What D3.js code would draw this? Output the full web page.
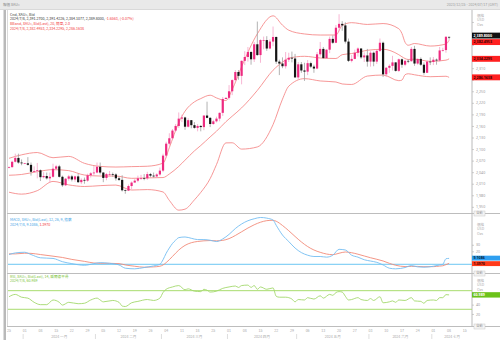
<!DOCTYPE html>
<html>
<head>
<meta charset="utf-8">
<script src="https://cdn.jsdelivr.net/npm/d3@7"></script>
<style>
html,body{margin:0;padding:0;background:#fff;}
svg{display:block;font-family:"Noto Sans CJK TC","Noto Sans",sans-serif;}
</style>
</head>
<body>
<svg id="chart" width="500" height="340"></svg>
<script>
// ---- Daily XAU= candles, 2023/12/25 .. 2024/07/08 ----
const candleOpen = [2053,2053,2067,2077,2065,2063,2063,2059,2041,2043,2045,2027,2030,2024,2028,2049,2055,2028,2006,2023,2029,2021,2029,2014,2020,2018,2032,2037,2039,2054,2039,2025,2035,2035,2034,2024,2020,1993,1992,2004,2013,2018,2024,2025,2024,2035,2031,2029,2034,2044,2083,2114,2128,2148,2160,2179,2182,2158,2175,2162,2155,2160,2157,2187,2181,2165,2172,2179,2194,2230,2233,2250,2279,2300,2290,2329,2339,2352,2333,2372,2344,2383,2383,2361,2379,2391,2327,2322,2315,2332,2337,2335,2286,2320,2304,2301,2323,2314,2309,2346,2360,2336,2358,2386,2376,2415,2425,2421,2379,2329,2334,2350,2361,2338,2343,2327,2350,2327,2355,2376,2294,2311,2316,2325,2303,2333,2319,2329,2328,2360,2322,2334,2319,2298,2327,2326,2332,2330,2356,2357,2391.27];
const candleHigh = [2055,2070,2088,2088,2073,2064,2079,2065,2055,2064,2047,2040,2039,2039,2062,2059,2059,2031,2025,2033,2033,2031,2036,2024,2026,2036,2040,2056,2065,2065,2040,2038,2043,2039,2037,2029,2032,1995,2008,2016,2022,2031,2033,2035,2041,2038,2039,2037,2052,2088,2119,2141,2152,2165,2195,2189,2184,2180,2175,2170,2165,2162,2187,2223,2183,2176,2184,2195,2235,2234,2266,2281,2305,2305,2330,2354,2365,2354,2378,2431,2385,2392,2393,2385,2418,2392,2332,2338,2352,2350,2353,2347,2326,2326,2324,2331,2327,2319,2352,2378,2365,2359,2392,2395,2422,2450,2432,2429,2387,2344,2358,2364,2362,2351,2360,2354,2353,2358,2387,2379,2313,2320,2342,2325,2335,2335,2332,2333,2365,2368,2335,2338,2325,2330,2338,2339,2335,2365,2363,2393,2391.42];
const candleLow = [2050,2052,2065,2062,2058,2062,2057,2031,2038,2024,2017,2024,2021,2013,2026,2045,2026,2002,2004,2018,2016,2015,2012,2009,2010,2015,2026,2031,2037,2034,2014,2019,2030,2028,2018,2017,1990,1984,1991,1995,2013,2014,2020,2019,2020,2027,2026,2025,2031,2040,2078,2109,2125,2145,2155,2170,2150,2156,2154,2153,2146,2146,2149,2180,2157,2163,2169,2172,2186,2230,2228,2240,2273,2280,2268,2318,2327,2319,2326,2342,2324,2359,2355,2359,2367,2321,2292,2310,2309,2326,2325,2285,2281,2298,2277,2292,2310,2298,2307,2340,2335,2335,2349,2373,2375,2406,2407,2374,2326,2325,2333,2340,2334,2326,2314,2314,2315,2321,2352,2287,2287,2298,2304,2301,2300,2311,2315,2323,2327,2316,2319,2316,2293,2298,2318,2318,2319,2327,2353,2350,2384.11];
const candleClose = [2053,2067,2077,2065,2063,2063,2059,2041,2043,2045,2027,2030,2024,2028,2049,2055,2028,2006,2023,2029,2021,2029,2014,2020,2018,2032,2037,2039,2054,2039,2025,2035,2035,2034,2024,2020,1993,1992,2004,2013,2018,2024,2025,2024,2035,2031,2029,2034,2044,2083,2114,2128,2148,2160,2179,2182,2158,2175,2162,2155,2160,2157,2187,2181,2165,2172,2179,2194,2230,2233,2250,2279,2300,2290,2329,2339,2352,2333,2372,2344,2383,2383,2361,2379,2391,2327,2322,2315,2332,2337,2335,2286,2320,2304,2301,2323,2314,2309,2346,2360,2336,2358,2386,2376,2415,2425,2421,2379,2329,2334,2350,2361,2338,2343,2327,2350,2327,2355,2376,2294,2311,2316,2325,2303,2333,2319,2329,2328,2360,2322,2334,2319,2298,2327,2326,2332,2330,2356,2357,2391.46,2389.80];

// ---- Bollinger band (20, 2.0) readings, by trading-day index ----
const bandDay    = [0,4,9,14,19,24,29,34,39,44,49,51,54,56,59,61,64,66,69,71,74,79,84,87,89,94,99,104,106,109,114,119,124,125,126,127,129,134,139,140];
const bandUpper  = [2076,2085,2091,2077.5,2081,2063,2055,2053.3,2054.4,2055.4,2063.4,2103.6,2168.6,2198.4,2222.6,2231,2239.8,2232.8,2226,2254.3,2313.9,2399.1,2445.9,2421.6,2408.5,2398.8,2396,2396.1,2421,2428.1,2423.5,2425.8,2412.3,2400,2377,2369.5,2374,2367.4,2372.6,2382.4953];
const bandMiddle = [2032,2034,2041.3,2046.6,2044,2032.6,2030,2029.9,2024,2025.1,2026,2035.2,2055,2071.2,2095.4,2109.2,2131.6,2146.2,2171,2185.3,2206.9,2252.3,2304.7,2325.6,2335.9,2340.8,2336.4,2335.1,2345,2347.9,2356.5,2359,2344.9,2339.6,2335,2332.5,2333.4,2327.6,2330.8,2334.2295];
const bandLower  = [1988,1983,1992,2016,2007,2002.8,2005,2006.5,1993.6,1994.8,1988.6,1966.8,1941.4,1944,1968.2,1987.4,2023.4,2059.6,2116,2116.3,2099.9,2105.5,2163.5,2229.6,2263.3,2282.8,2276.8,2274.1,2269,2267.7,2289.5,2292.2,2277.5,2279,2293,2295.5,2292.8,2287.8,2289,2286.1638];

// ---- MACD (12, 26, 9) readings ----
const macdDay    = [0,2,5,7,10,14,17,20,24,27,29,32,35,37,40,43,46,48,49,50,51,52,53,54,56,58,60,62,64,66,68,70,72,74,76,78,80,82,84,85,87,89,91,93,95,97,99,101,103,105,107,109,111,113,115,117,119,121,123,126,128,130,132,135,137,138,139,140];
const macdLine   = [15,17.5,18.5,15,10,9,4,1,-1.5,1,2.5,1.5,-1,-6,-7,-5,-2.5,0,7,17,25,32,37,41,42,40,38,38,37,35,39,46,55,62,67,70,72,71,68,60,45,35,25,18,14,12,12,11,14,23,22,14,11,7,5,3,-1,-6,-7,-5,-2,-4,-4.5,-3,-1,0,8.5,9.1086];
const macdSignal = [16,16,17,16.8,15,12.5,10.5,7.5,4.5,2,1.5,1.5,1,-1,-3,-4.5,-4,-3,-1,2.6,7.1,12.1,17.1,21.9,29.1,33.2,35.1,36.1,36.5,36.1,36.8,39.5,44.3,50,55.8,60.8,64.7,67.1,67.7,66.2,59.7,51.6,42.8,34.4,27.3,22,18.4,15.8,14.8,17,18.9,17.8,15.5,12.8,10.1,7.7,5.1,1.5,-1.5,-3.5,-3.2,-3.3,-3.7,-3.6,-2.8,-2.3,-0.5,1.397];

// ---- RSI (14, Wilder) readings ----
const rsiDay = [0,2,4,6,8,10,12,14,16,17,19,22,24,26,28,29,30,33,35,36,37,39,41,44,46,48,49,50,52,54,56,57,59,61,62,63,64,66,68,70,72,73,74,76,77,78,79,80,82,84,85,86,88,90,91,92,94,95,97,99,100,102,103,104,105,106,107,108,109,111,112,114,115,116,118,119,121,122,123,124,126,128,129,131,132,133,135,136,137,138,139,140];
const rsiValue = [57,62,56,54,45,40,40,50,45,39,45,42,43,50,54,50,46,49,45,37,36,44,47,51,49,54,66,73,78,81,72,74,69,68,73,71,67,69,75,78,80,77,81,82,77,81,73,78,73,76,58,56,56,52,46,51,50,55,52,59,54,62,60,66,68,67,58,50,51,55,51,49,53,49,57,44,46,48,45,50,49,55,48,47,43,49,50,49,55,55,61.5,60.989];

// ---- axis text ----
const priceTicks = [2430,2400,2370,2340,2310,2280,2250,2220,2190,2160,2130,2100,2070,2040,2010,1980,1950];
const monthNames = ["2024 一月","2024 二月","2024 三月","2024 四月","2024 五月","2024 六月","2024 七月"];
const unitText = ["價格","USD","Ozs"];

// weekday calendar from 2023/12/25 to 2024/07/17
const days = d3.timeDay.range(new Date(2023,11,25), new Date(2024,6,18))
  .filter(d => d.getDay() !== 0 && d.getDay() !== 6);

const svg = d3.select("#chart");
const W = 500, H = 340;
const plotL = 7, plotR = 472;
const mainTop = 10, mainBot = 213, macdBot = 273, rsiBot = 326;

const x = d3.scaleLinear().domain([0, days.length - 1]).range([9, 471.1]);
const yMain = d3.scaleLinear().domain([1934, 2461]).range([mainBot, mainTop]);
const yMacd = d3.scaleLinear().domain([-13.4, 78.9]).range([macdBot, mainBot]);
const yRsi  = d3.scaleLinear().domain([-5.9, 108]).range([rsiBot, macdBot]);

const FS = 3.6;
const grey = "#9a9a9a";

// chrome
svg.append("rect").attr("width", W).attr("height", H).attr("fill", "#fff");
svg.append("rect").attr("width", W).attr("height", 9).attr("fill", "#e9e9e9");
svg.append("line").attr("x1", 0).attr("x2", W).attr("y1", 9.5).attr("y2", 9.5).attr("stroke", "#cfcfcf").attr("stroke-width", 0.8);
svg.append("rect").attr("x", 3.5).attr("y", 10).attr("width", 2.5).attr("height", H - 10).attr("fill", "#b9b9b9");
svg.append("line").attr("x1", plotL + 0.5).attr("x2", plotL + 0.5).attr("y1", mainTop).attr("y2", rsiBot).attr("stroke", "#d0d0d0").attr("stroke-width", 0.8);
svg.append("line").attr("x1", plotR).attr("x2", plotR).attr("y1", mainTop).attr("y2", rsiBot + 1).attr("stroke", "#a8a8a8").attr("stroke-width", 0.8);
[mainBot, macdBot, rsiBot].forEach(y => {
  svg.append("line").attr("x1", plotL).attr("x2", W).attr("y1", y + 0.5).attr("y2", y + 0.5)
    .attr("stroke", "#bdbdbd").attr("stroke-width", 1);
});

svg.append("text").attr("x", 3).attr("y", 5).attr("font-size", FS).attr("fill", "#888")
  .attr("dominant-baseline", "middle").text("報價 XAU=");
svg.append("text").attr("x", 498).attr("y", 5).attr("font-size", FS).attr("fill", "#999")
  .attr("text-anchor", "end").attr("dominant-baseline", "middle").text("2023/12/25 - 2024/07/17 (GMT)");

// clip paths per panel
const defs = svg.append("defs");
function clip(id, y0, y1) {
  defs.append("clipPath").attr("id", id).append("rect")
    .attr("x", plotL + 1).attr("y", y0 + 1).attr("width", plotR - plotL - 1).attr("height", y1 - y0 - 1);
  return svg.append("g").attr("clip-path", `url(#${id})`);
}
const gMain = clip("cMain", mainTop, mainBot);
const gMacd = clip("cMacd", mainBot, macdBot);
const gRsi  = clip("cRsi", macdBot, rsiBot);

// ---- main panel: bands + candles ----
const bandColor = "#f47c7c";
function bandPath(vals) {
  return d3.line().x((d, i) => x(bandDay[i])).y(d => yMain(d)).curve(d3.curveMonotoneX)(vals);
}
[bandUpper, bandMiddle, bandLower].forEach(vals => {
  gMain.append("path").attr("d", bandPath(vals)).attr("fill", "none")
    .attr("stroke", bandColor).attr("stroke-width", 0.8);
});

const candles = candleClose.map((c, i) => ({i, o: candleOpen[i], h: candleHigh[i], l: candleLow[i], c}));
const bullBody = "#ee2a80", bullWick = "#f5a3c8", bearBody = "#141414", bearWick = "#a0a0a0";
gMain.selectAll("line.wick").data(candles).join("line")
  .attr("x1", d => x(d.i)).attr("x2", d => x(d.i))
  .attr("y1", d => yMain(d.h)).attr("y2", d => yMain(d.l))
  .attr("stroke", d => d.c >= d.o ? bullWick : bearWick).attr("stroke-width", 0.8);
gMain.selectAll("rect.body").data(candles).join("rect")
  .attr("x", d => x(d.i) - 1.1).attr("width", 2.2)
  .attr("y", d => yMain(Math.max(d.o, d.c)))
  .attr("height", d => Math.max(0.7, Math.abs(yMain(d.o) - yMain(d.c))))
  .attr("fill", d => d.c >= d.o ? bullBody : bearBody);

// ---- MACD panel ----
gMacd.append("line").attr("x1", plotL).attr("x2", plotR)
  .attr("y1", yMacd(0)).attr("y2", yMacd(0)).attr("stroke", "#6cc6f2").attr("stroke-width", 1);
const macdLineGen = vals => d3.line().x((d, i) => x(macdDay[i])).y(d => yMacd(d)).curve(d3.curveMonotoneX)(vals);
gMacd.append("path").attr("d", macdLineGen(macdSignal)).attr("fill", "none").attr("stroke", "#f28a78").attr("stroke-width", 0.9);
gMacd.append("path").attr("d", macdLineGen(macdLine)).attr("fill", "none").attr("stroke", "#74bdf2").attr("stroke-width", 0.9);

// ---- RSI panel ----
[70, 30].forEach(v => {
  gRsi.append("line").attr("x1", plotL).attr("x2", plotR).attr("y1", yRsi(v)).attr("y2", yRsi(v))
    .attr("stroke", "#a9dc6e").attr("stroke-width", 1);
});
gRsi.append("path")
  .attr("d", d3.line().x((d, i) => x(rsiDay[i])).y(d => yRsi(d)).curve(d3.curveMonotoneX)(rsiValue))
  .attr("fill", "none").attr("stroke", "#a3d86c").attr("stroke-width", 0.9);

// ---- right axes ----
function rightAxis(scale, values, hidden) {
  const g = svg.append("g").attr("transform", `translate(${plotR},0)`)
    .call(d3.axisRight(scale).tickValues(values).tickSize(2).tickPadding(2).tickFormat(d3.format(",")));
  g.select(".domain").remove();
  g.selectAll(".tick line").attr("stroke", "#b0b0b0").attr("stroke-width", 0.6);
  g.selectAll(".tick text").attr("font-size", FS).attr("fill", grey).attr("font-family", "Noto Sans, sans-serif")
    .style("display", d => hidden.includes(d) ? "none" : null);
  return g;
}
rightAxis(yMain, priceTicks, [2430, 2400, 2370, 2340, 2280]);
rightAxis(yMacd, [30, 20, 10, 0], [10, 0]);
rightAxis(yRsi, [40, 20], []);

// unit captions and auto-scale boxes
[mainTop + 6, mainBot + 12, macdBot + 8].forEach(y0 => {
  unitText.forEach((t, k) => {
    svg.append("text").attr("x", 477).attr("y", y0 + k * 4.5).attr("font-size", FS).attr("fill", "#aaa")
      .attr("dominant-baseline", "middle").text(t);
  });
});
[mainBot, macdBot, rsiBot].forEach(y => {
  svg.append("rect").attr("x", 474).attr("y", y - 2).attr("width", 11).attr("height", 5)
    .attr("fill", "#f4f4f4").attr("stroke", "#c8c8c8").attr("stroke-width", 0.5);
  svg.append("text").attr("x", 479.5).attr("y", y + 0.5).attr("font-size", 3.3).attr("fill", "#999")
    .attr("text-anchor", "middle").attr("dominant-baseline", "middle").text("自動");
});

// value tags on the axis
function tags(list, h) {
  const pos = list.map(t => t.y);
  for (let k = 1; k < pos.length; k++) {
    if (pos[k] - pos[k - 1] < h) {
      const c = (pos[k] + pos[k - 1]) / 2;
      pos[k - 1] = c - h / 2; pos[k] = c + h / 2;
    }
  }
  list.forEach((t, k) => {
    svg.append("rect").attr("x", plotR).attr("y", pos[k] - h / 2 + 0.3).attr("width", W - plotR)
      .attr("height", h - 0.6).attr("fill", t.fill);
    svg.append("text").attr("x", plotR + 1.5).attr("y", pos[k] + 0.2).attr("font-size", FS)
      .attr("font-weight", "bold").attr("fill", t.ink).attr("dominant-baseline", "middle")
      .attr("font-family", "Noto Sans, sans-serif").text(t.label);
  });
}
const fmt4 = d3.format(",.4f");
const lastClose = candleClose[candleClose.length - 1];
const last = bandUpper.length - 1;
tags([
  {y: yMain(lastClose), fill: "#111", ink: "#fff", label: fmt4(lastClose)},
  {y: yMain(bandUpper[last]), fill: "#ff2020", ink: "#3a0000", label: fmt4(bandUpper[last])}
], 6.5);
tags([{y: yMain(bandMiddle[last]), fill: "#ff2020", ink: "#3a0000", label: fmt4(bandMiddle[last])}], 6.5);
tags([{y: yMain(bandLower[last]), fill: "#ff2020", ink: "#3a0000", label: fmt4(bandLower[last])}], 6.5);
const mL = macdLine[macdLine.length - 1], mS = macdSignal[macdSignal.length - 1];
tags([
  {y: yMacd(mL), fill: "#2f9ff0", ink: "#06243a", label: d3.format(".4f")(mL)},
  {y: yMacd(mS), fill: "#ff3a1a", ink: "#3a0000", label: d3.format(".4f")(mS)}
], 5.5);
const rL = rsiValue[rsiValue.length - 1];
tags([{y: yRsi(rL), fill: "#6cc21a", ink: "#fff", label: d3.format(".3f")(rL)}], 6);

// ---- legends ----
function legend(y, parts) {
  const t = svg.append("text").attr("x", 10).attr("y", y).attr("font-size", FS).attr("dominant-baseline", "middle");
  parts.forEach(p => t.append("tspan").attr("fill", p[1]).text(p[0]));
}
const red = "#f23c3c", blue = "#3fa3e6", green = "#7cc43a";
legend(14.5, [["Cnd, XAU=, Bid", "#333"]]);
legend(19.3, [["2024/7/8, 2,391.2700, 2,391.4226, 2,384.1077, 2,389.8000, ", "#333"], ["-1.6563, (-0.07%)", red]]);
legend(24.1, [["BBand, XAU=, Bid(Last), 20, 簡單, 2.0", red]]);
legend(28.9, [["2024/7/8, 2,382.4953, 2,334.2295, 2,286.1638", red]]);
legend(220, [["MACD, XAU=, Bid(Last), 12, 26, 9, 指數", blue]]);
legend(224.6, [["2024/7/8, 9.1086, ", blue], ["1.3970", red]]);
legend(276.6, [["RSI, XAU=, Bid(Last), 14, 威爾德平滑", green]]);
legend(281.2, [["2024/7/8, 60.989", green]]);

// ---- time axis ----
const fmtDay = d3.timeFormat("%d");
days.forEach((d, i) => {
  if (d.getDay() === 1) {
    svg.append("text").attr("x", x(i)).attr("y", 331.5).attr("font-size", FS).attr("fill", "#aaa")
      .attr("text-anchor", "middle").attr("dominant-baseline", "middle").text(fmtDay(d));
  }
});
for (let m = 0; m < 7; m++) {
  const idx = days.map((d, i) => [d, i]).filter(p => p[0].getFullYear() === 2024 && p[0].getMonth() === m).map(p => p[1]);
  const first = idx[0], lastI = idx[idx.length - 1];
  svg.append("line").attr("x1", x(first - 0.5)).attr("x2", x(first - 0.5)).attr("y1", 334).attr("y2", 339)
    .attr("stroke", "#c8c8c8").attr("stroke-width", 0.6);
  svg.append("text").attr("x", x((first + lastI) / 2)).attr("y", 336.6).attr("font-size", FS).attr("fill", "#aaa")
    .attr("text-anchor", "middle").attr("dominant-baseline", "middle").text(monthNames[m]);
}
</script>
</body>
</html>
